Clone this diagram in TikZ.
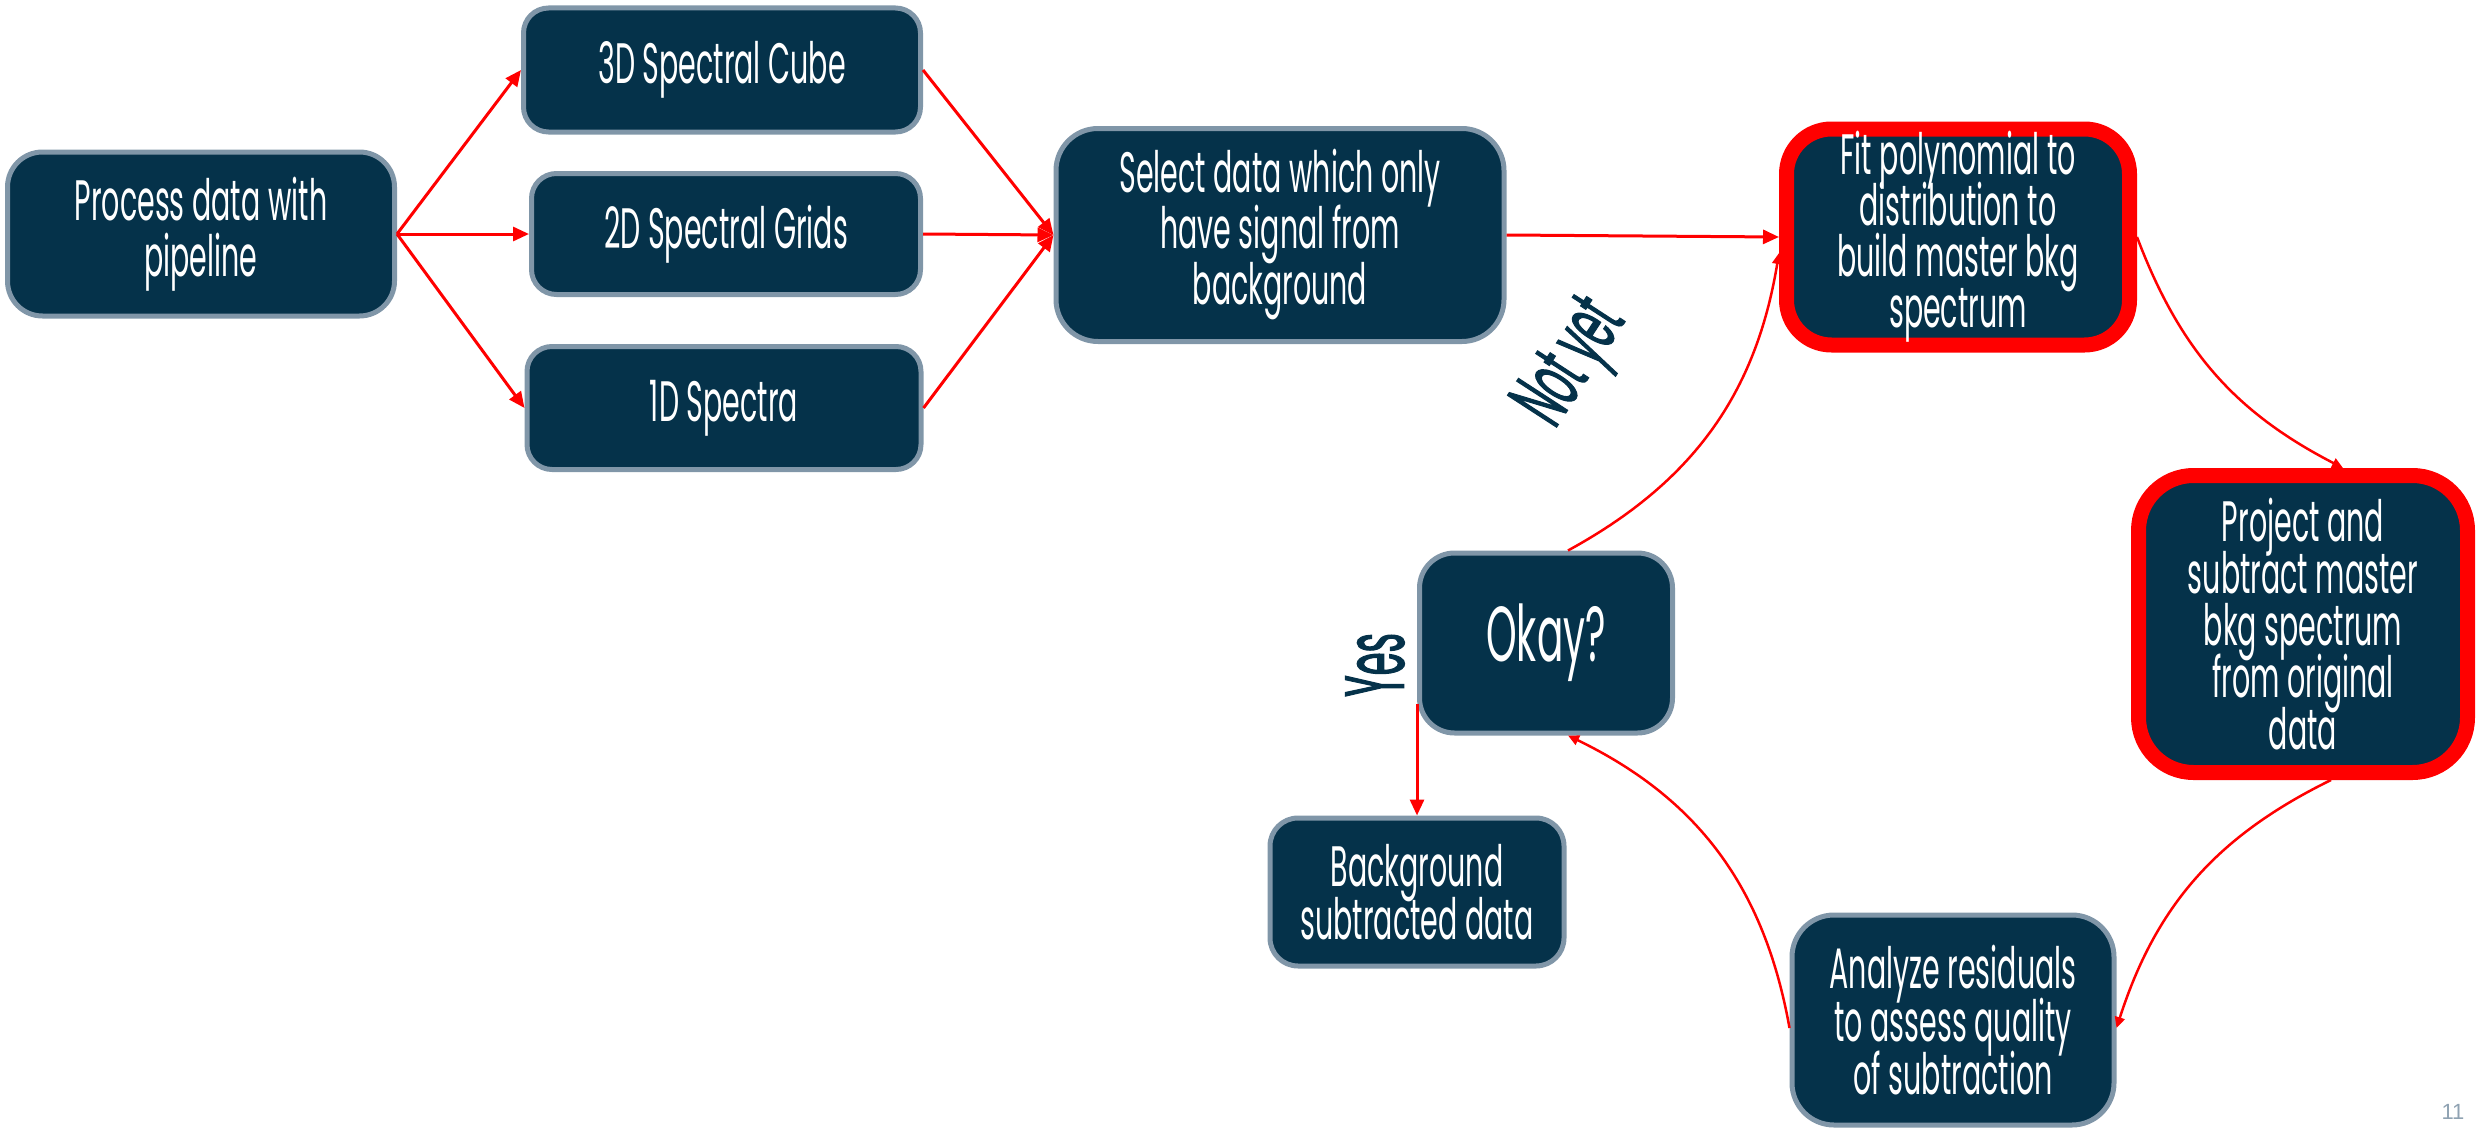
\documentclass[tikz,border=0pt]{standalone}
\usepackage{fontspec}
\setmainfont{Poppins}[FakeStretch=0.5]
\newfontfamily\lblfont{Poppins}[FakeStretch=0.44, FakeBold=1.2]
\newfontfamily\pagefont{Liberation Sans}
\usetikzlibrary{arrows.meta,calc}
\definecolor{boxfill}{HTML}{05324A}
\definecolor{boxgray}{HTML}{8096A8}
\definecolor{pagegray}{HTML}{8FA2B2}
\newcommand{\bfnt}[1]{\fontsize{57}{#1}\selectfont\lineskiplimit=-200pt\relax}
\tikzset{
  box/.style={draw=boxgray, line width=5pt, fill=boxfill, inner sep=0pt},
  redbox/.style={box, draw=red, line width=15pt},
  btext/.style={text=white, align=center, inner sep=0pt, font=\bfnt{53}},
  arr/.style={draw=red, line width=3pt, -{Triangle[length=16pt,width=14pt]}},
  carr/.style={draw=red, line width=2.5pt, -{Triangle[length=11pt,width=10pt]}},
  lbl/.style={text=boxfill, inner sep=0pt, font=\lblfont\fontsize{84}{84}\selectfont}
}
\begin{document}
\begin{tikzpicture}[x=1pt,y=-1pt]
\useasboundingbox (0,0) rectangle (2477,1132);
\node[box, minimum width=387pt, minimum height=164pt, rounded corners=35pt] (proc) at (201,234) {};
\node[btext, font=\bfnt{56}] (proct) at (proc) {Process data with\\pipeline};
\node[box, minimum width=397pt, minimum height=124pt, rounded corners=25pt] (cube) at (722,70) {};
\node[btext] (cubet) at (cube) {3D Spectral Cube};
\node[box, minimum width=389pt, minimum height=121pt, rounded corners=25pt] (grids) at (726,234) {};
\node[btext] (gridst) at (grids) {2D Spectral Grids};
\node[box, minimum width=394pt, minimum height=123pt, rounded corners=25pt] (spec) at (724,408) {};
\node[btext] (spect) at (spec) {1D Spectra};
\node[box, minimum width=448pt, minimum height=213pt, rounded corners=42pt] (sel) at (1280,235) {};
\node[btext, font=\bfnt{56}] (selt) at (sel) {Select data which only\\have signal from\\background};
\node[redbox, minimum width=343pt, minimum height=216pt, rounded corners=45pt] (fit) at (1958,237) {};
\node[btext, font=\bfnt{51}] (fitt) at (fit) {Fit polynomial to\\distribution to\\build master bkg\\spectrum};
\node[redbox, minimum width=329pt, minimum height=297pt, rounded corners=55pt] (proj) at (2303,624) {};
\node[btext, font=\bfnt{52}] (projt) at (proj) {Project and\\subtract master\\bkg spectrum\\from original\\data};
\node[box, minimum width=322pt, minimum height=210pt, rounded corners=42pt] (ana) at (1953,1020) {};
\node[btext] (anat) at (ana) {Analyze residuals\\to assess quality\\of subtraction};
\node[box, minimum width=253pt, minimum height=180pt, rounded corners=35pt] (okay) at (1546,643) {};
\node[btext, font=\fontsize{78}{78}\selectfont] (okayt) at (okay) {Okay?};
\node[box, minimum width=294pt, minimum height=148pt, rounded corners=28pt] (bg) at (1417,892) {};
\node[btext] (bgt) at (bg) {Background\\subtracted data};

\draw[arr] (proc.east) -- (cube.west);
\draw[arr] (proc.east) -- (grids.west);
\draw[arr] (proc.east) -- (spec.west);
\draw[arr] (cube.east) -- (sel.west);
\draw[arr] (grids.east) -- (sel.west);
\draw[arr] (spec.east) -- (sel.west);
\draw[arr] (sel.east) -- (fit.west);

\draw[carr] (fit.east) to[bend right=21] ($(proj.north)+(40,0)$);
\draw[carr] ($(proj.south)+(28,0)$) to[bend right=23] ($(ana.east)+(0,8)$);
\draw[carr] ($(ana.west)+(0,8)$) to[bend right=27] ($(okay.south)+(22,0)$);
\draw[carr] ($(okay.north)+(22,0)$) to[bend right=26] ($(fit.west)+(0,16)$);
\coordinate (yesstart) at ($(okay.south west)+(0,-32)$);
\draw[arr] (yesstart) -- (bg.north);

\node[lbl, rotate=90] (yes) at (1375,665) {Yes};
\node[lbl, rotate=57] (notyet) at (1575,365) {Not yet};
\node[text=pagegray, inner sep=0pt, font=\pagefont\fontsize{22}{22}\selectfont] (pg) at (2453,1112) {11};
\end{tikzpicture}
\end{document}
